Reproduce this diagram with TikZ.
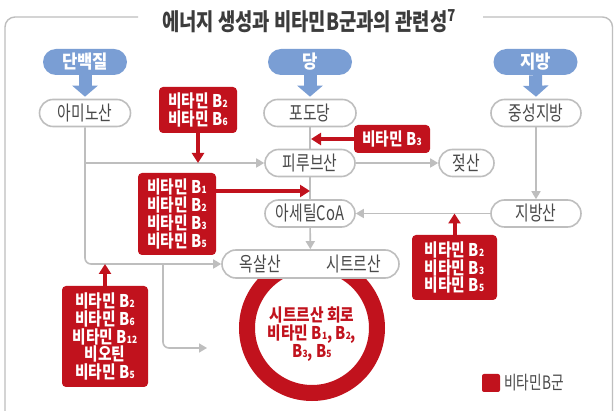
\documentclass[tikz,border=0pt]{standalone}
\usepackage{fontspec}
\setmainfont{Noto Sans CJK KR}
\newfontfamily\kc{Noto Sans CJK KR}[FakeStretch=0.74]
\newfontfamily\km{Noto Sans CJK KR}[FakeStretch=0.84]
\newfontfamily\kb{Noto Sans CJK KR}[FakeStretch=0.9]
\newfontfamily\kt{Noto Sans CJK KR}[FakeStretch=0.8]
\usetikzlibrary{arrows.meta,calc,positioning}
\definecolor{cblue}{RGB}{122,158,212}
\definecolor{cred}{RGB}{193,18,29}
\definecolor{cline}{RGB}{190,190,190}
\definecolor{ctext}{RGB}{74,74,74}
\definecolor{ctitle}{RGB}{60,60,60}
\newcommand{\Bsub}[1]{B{\fontsize{10}{10}\selectfont #1}}
\tikzset{
  bluep/.style={fill=cblue, rounded corners=13pt, minimum width=84pt, minimum height=26pt, text=white, font=\kb\bfseries\fontsize{18.5}{18.5}\selectfont, inner sep=0pt},
  gnode/.style={draw=cline, line width=1.6pt, fill=white, rounded corners=13.5pt, minimum height=27pt, text=ctext, font=\kc\fontsize{20}{20}\selectfont, inner sep=0pt},
  rbox/.style={fill=cred, rounded corners=4pt, text=white, font=\km\bfseries\fontsize{17.5}{17.7}\selectfont, align=center, inner sep=0pt},
  gline/.style={draw=cline, line width=1.6pt},
  garrow/.style={gline, -{Triangle[width=9pt,length=8pt]}},
  rarrow/.style={draw=cred, line width=4pt, -{Triangle[width=12pt,length=10pt]}},
  barrow/.style={draw=cblue, line width=13pt, -{Triangle[width=25pt,length=11pt]}},
  frame/.style={draw=cline, line width=1.4pt},
}
\begin{document}
\begin{tikzpicture}[x=1pt,y=-1pt]
\useasboundingbox (0,0) rectangle (614,411);
\fill[white] (0,0) rectangle (614,411);
% frame
\draw[frame, rounded corners=10pt] (138,17) -| (5,411);
\draw[frame, rounded corners=10pt] (483,17) -| (612.5,411);
\node[font=\kt\bfseries\fontsize{23.5}{23.5}\selectfont, text=ctitle, inner sep=0pt] (title) at (309,21) {에너지 생성과 비타민B군과의 관련성\textsuperscript{7}};
% ring
\draw[draw=cred, line width=16pt] (312,328) circle (65pt);
\node[font=\km\bfseries\fontsize{17.5}{18.3}\selectfont, text=cred, align=center, inner sep=0pt] (ringtxt) at (312,334) {시트르산 회로\\비타민 \Bsub1, \Bsub2,\\\Bsub3, \Bsub5};
% top pills
\node[bluep] (prot) at (85,62) {단백질};
\node[bluep] (sug) at (310,62) {당};
\node[bluep] (fat) at (535.5,62) {지방};
% gray nodes
\node[gnode, minimum width=91pt] (amino) at (85,113) {아미노산};
\node[gnode, minimum width=92pt] (gluc) at (310,113) {포도당};
\node[gnode, minimum width=90pt] (tg) at (536,113) {중성지방};
\node[gnode, minimum width=90pt] (pyr) at (310,163) {피루브산};
\node[gnode, minimum width=55pt] (lac) at (466.5,163) {젖산};
\node[gnode, minimum width=90pt] (acoa) at (310,213.5) {아세틸CoA};
\node[gnode, minimum width=90pt] (fa) at (536,213.5) {지방산};
% blue arrows
\draw[barrow] (prot.south) -- ([yshift=2pt]amino.north);
\draw[barrow] (sug.south) -- ([yshift=2pt]gluc.north);
\draw[barrow] (fat.south) -- ([yshift=2pt]tg.north);
% gray connectors
\coordinate (br2) at (163,264);
\coordinate (cend) at (207,348);
\coordinate (a1) at (310,191);
\draw[gline] (gluc) -- (pyr);
\draw[gline] (pyr) -- (acoa);
\draw[garrow] (amino.south |- pyr.west) -- (pyr.west);
\draw[garrow] (pyr) -- (lac);
\draw[garrow] (tg) -- (fa);
\draw[garrow] (fa) -- (acoa);
\draw[garrow, rounded corners=6pt] (br2) |- (cend);
\node[gnode, minimum width=177pt, minimum height=28pt, rounded corners=14pt] (oc) at (310.5,264) {옥살산\hspace{46pt}시트르산};
\draw[garrow, rounded corners=6pt] (amino.south) |- (oc.west);
\draw[garrow] (acoa) -- (oc);
% red boxes
\node[rbox, minimum width=78pt, minimum height=46pt] (r26) at (198,110) {비타민 \Bsub2\\비타민 \Bsub6};
\node[rbox, minimum width=76pt, minimum height=28pt] (r3) at (392,139) {비타민 \Bsub3};
\node[rbox, minimum width=78pt, minimum height=82pt] (r1235) at (177,214) {비타민 \Bsub1\\비타민 \Bsub2\\비타민 \Bsub3\\비타민 \Bsub5};
\node[rbox, minimum width=85pt, minimum height=65pt] (r235) at (454.5,267.5) {비타민 \Bsub2\\비타민 \Bsub3\\비타민 \Bsub5};
\node[rbox, minimum width=86pt, minimum height=101pt] (r2612) at (105,336.5) {비타민 \Bsub2\\비타민 \Bsub6\\비타민 \Bsub{12}\\비오틴\\비타민 \Bsub5};
% red arrows
\draw[rarrow] (r26.south) -- (r26.south |- pyr.west);
\draw[rarrow, shorten >=1pt] (r3.west) -- (r3.west -| gluc.south);
\draw[rarrow] (r1235.east |- a1) -- (a1);
\draw[rarrow] (r235.north) -- (r235.north |- fa.west);
\draw[rarrow] (r2612.north) -- (r2612.north |- oc.west);
% legend
\node[fill=cred, rounded corners=2pt, minimum size=18pt, inner sep=0pt] (leg) at (491,383) {};
\node[right=4pt of leg, inner sep=0pt, text=ctext, font=\kc\fontsize{18.5}{18.5}\selectfont] (legtxt) {비타민B군};
\end{tikzpicture}
\end{document}
